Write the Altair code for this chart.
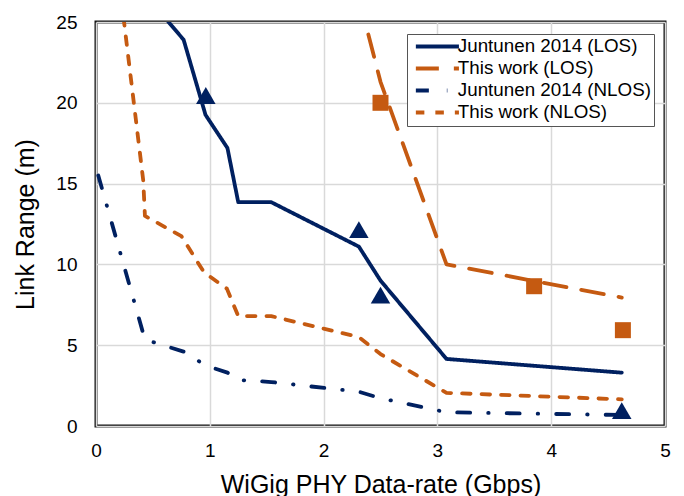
import altair as alt
import pandas as pd

NAVY = "#002060"
ORANGE = "#c55a11"
FONT = "Liberation Sans"

series_names = ["Juntunen 2014 (LOS)", "This work (LOS)",
                "Juntunen 2014 (NLOS)", "This work (NLOS)"]

# Juntunen 2014 (LOS) - solid navy (first point lies above the 25 m axis limit)
jl_x = [0.385, 0.77, 0.9625, 1.155, 1.25, 1.54, 2.31, 2.5, 3.08, 4.62]
jl_y = [27.1, 23.9, 19.25, 17.2, 13.85, 13.85, 11.1, 9.0, 4.15, 3.3]

# This work (LOS) - long dash orange
tl_x = [2.31, 2.5, 3.08, 4.62]
tl_y = [26.5, 21.3, 10.0, 7.95]

# Juntunen 2014 (NLOS) - dash-dot navy
jn_x = [0.02, 0.43, 0.77, 0.9625, 1.155, 1.25, 1.54, 2.31, 2.5, 3.08, 4.62]
jn_y = [15.5, 5.35, 4.6, 3.75, 3.3, 2.85, 2.72, 2.12, 1.72, 0.85, 0.68]

# This work (NLOS) - short dash orange
tn_x = [0.2, 0.415, 0.43, 0.75, 0.95, 1.15, 1.25, 1.54, 2.31, 2.5, 3.08, 4.62]
tn_y = [27.7, 15.2, 13.0, 11.75, 9.5, 8.5, 6.8, 6.8, 5.5, 4.45, 2.05, 1.65]

# measured points
tri_x = [0.965, 2.31, 2.5, 4.62]
tri_y = [20.45, 12.15, 8.1, 0.95]
sq_x = [2.5, 3.85, 4.63]
sq_y = [20.0, 8.65, 5.93]

rows = []
for name, xs, ys in zip(series_names, [jl_x, tl_x, jn_x, tn_x], [jl_y, tl_y, jn_y, tn_y]):
    for i, (a, b) in enumerate(zip(xs, ys)):
        rows.append({"series": name, "x": a, "y": b, "idx": i})
df = pd.DataFrame(rows)
tri_df = pd.DataFrame({"x": tri_x, "y": tri_y})
sq_df = pd.DataFrame({"x": sq_x, "y": sq_y})

xscale = alt.Scale(domain=[0, 5], nice=False, zero=False)
yscale = alt.Scale(domain=[0, 25], nice=False)

xaxis = alt.Axis(values=[0, 1, 2, 3, 4, 5], format="d", labelFlush=False,
                 labelPadding=15, titleY=66, titleBaseline="alphabetic")
yaxis = alt.Axis(values=[0, 5, 10, 15, 20, 25], format="d", labelFlush=False,
                 labelPadding=19, titleX=-63, titleY=202,
                 titleBaseline="alphabetic", titleAngle=270)

legend = alt.Legend(title=None, orient="none", legendX=311, legendY=12,
                    symbolType="M-4,0H4", symbolSize=116, symbolStrokeWidth=4,
                    symbolOffset=18, symbolFillColor="transparent",
                    labelFont=FONT, labelFontSize=18.8, labelColor="black",
                    labelOffset=11, fillColor="white", strokeColor="#555555",
                    padding=3, rowPadding=2, labelLimit=400)

lines = alt.Chart(df).mark_line(clip=True, strokeCap="round", strokeJoin="round",
                                strokeWidth=3.8).encode(
    x=alt.X("x:Q", scale=xscale, axis=xaxis, title="WiGig PHY Data-rate (Gbps)"),
    y=alt.Y("y:Q", scale=yscale, axis=yaxis, title="Link Range (m)"),
    color=alt.Color("series:N", sort=series_names,
                    scale=alt.Scale(domain=series_names, range=[NAVY, ORANGE, NAVY, ORANGE]),
                    legend=legend),
    strokeDash=alt.StrokeDash("series:N", sort=series_names,
                              scale=alt.Scale(domain=series_names,
                                              range=[[1, 0], [23, 15], [13, 18, 0.5, 18], [8.5, 11]]),
                              legend=legend),
    order="idx:Q",
)

tris = alt.Chart(tri_df).mark_point(shape="triangle-up", filled=True, size=380,
                                    color=NAVY, opacity=1, clip=True).encode(
    x=alt.X("x:Q", scale=xscale), y=alt.Y("y:Q", scale=yscale))
sqs = alt.Chart(sq_df).mark_point(shape="square", filled=True, size=256,
                                  color=ORANGE, opacity=1, clip=True).encode(
    x=alt.X("x:Q", scale=xscale), y=alt.Y("y:Q", scale=yscale))

chart = alt.layer(lines, tris, sqs).properties(
    width=569, height=404,
    padding={"left": 96, "top": 22, "right": 19, "bottom": 70},
    autosize=alt.AutoSizeParams(type="none"),
    background="white",
).configure(font=FONT).configure_axis(
    labelFont=FONT, labelFontSize=19, labelColor="black",
    titleFont=FONT, titleFontSize=25, titleFontWeight="normal", titleColor="black",
    grid=True, gridColor="#d9d9d9", gridWidth=1.5, ticks=False, domain=False,
).configure_view(stroke="#111111", strokeWidth=3)

chart.save("out.html", embed_options={"renderer": "svg", "actions": False})
